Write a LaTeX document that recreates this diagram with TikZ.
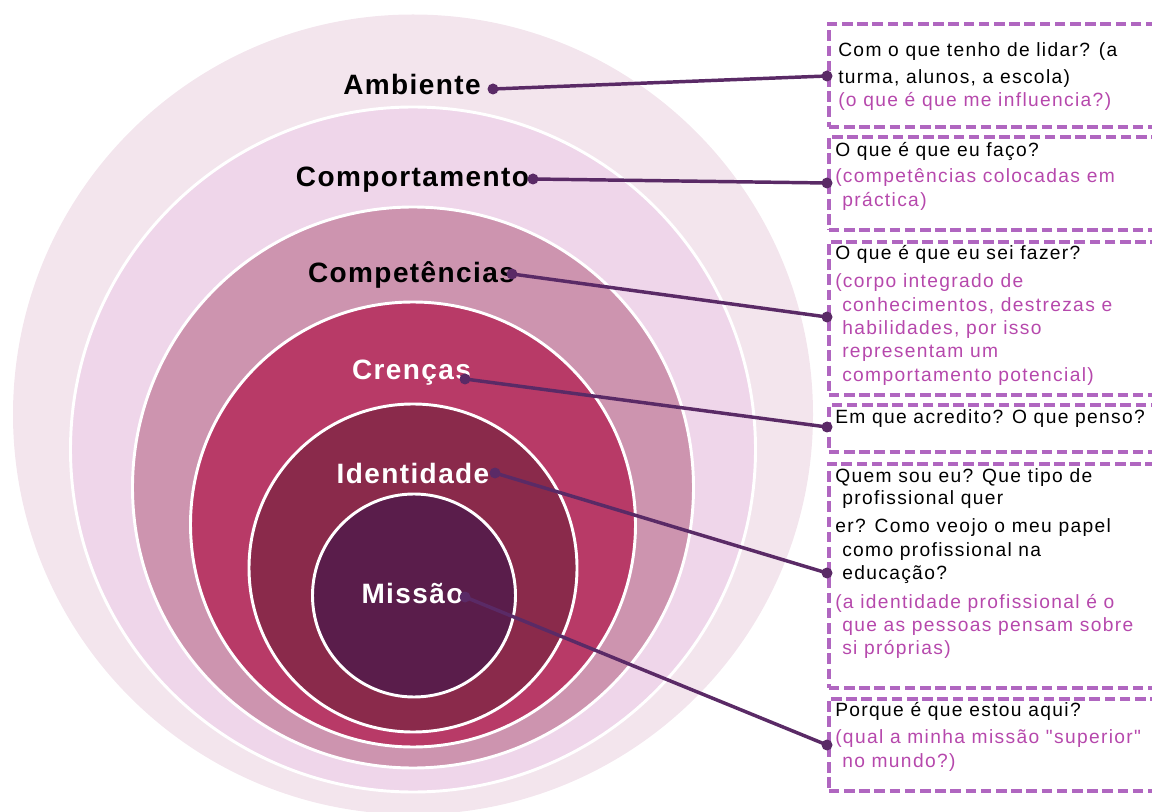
\documentclass[tikz,border=0pt]{standalone}
\usepackage{fontspec}
\setmainfont{Liberation Sans}
\newfontfamily\lblfont{Liberation Sans}[LetterSpace=5]
\newfontfamily\bxfont{Liberation Sans}[LetterSpace=7]
\usetikzlibrary{calc}
\definecolor{cAmb}{HTML}{F3E5ED}
\definecolor{cCmp}{HTML}{EFD6EA}
\definecolor{cCpt}{HTML}{CD94AF}
\definecolor{cCre}{HTML}{B83A67}
\definecolor{cIde}{HTML}{8A2A4B}
\definecolor{cMis}{HTML}{5A1D4B}
\definecolor{cConn}{HTML}{5A2A66}
\definecolor{cDash}{HTML}{B066C0}
\definecolor{cPink}{HTML}{B648AC}
\tikzset{
  ring/.style={circle, inner sep=0pt, draw=white, line width=2.2pt},
  lbl/.style={anchor=base, inner sep=0pt, font=\lblfont\bfseries\fontsize{21}{24}\selectfont},
  qbox/.style={rectangle, anchor=north west, inner sep=0pt, draw=cDash, line width=2.7pt,
    dash pattern=on 8pt off 3.4pt, minimum width=261pt},
  bt/.style={anchor=base west, inner sep=0pt, font=\bxfont\fontsize{14.4}{17}\selectfont},
  pk/.style={bt, text=cPink},
  conn/.style={draw=cConn, line width=2.6pt},
  dot/.style={fill=cConn}
}
\begin{document}
\begin{tikzpicture}[x=0.75pt,y=-0.75pt]
\useasboundingbox (0,0) rectangle (1152,812);
% circles
\node[circle, inner sep=0pt, fill=cAmb, minimum size=600pt] (amb) at (413,414.5) {};
\node[ring, fill=cCmp, minimum size=513.75pt] (cmp) at (413,449.5) {};
\node[ring, fill=cCpt, minimum size=420.75pt] (cpt) at (413,487.5) {};
\node[ring, fill=cCre, minimum size=333.75pt] (cre) at (413,524.5) {};
\node[ring, fill=cIde, minimum size=246pt] (ide) at (413,568) {};
\node[ring, fill=cMis, minimum size=152.25pt] (mis) at (414,595.5) {};
% labels
\node[lbl] (lamb) at (412,95) {Ambiente};
\node[lbl] (lcmp) at (412.5,187) {Comportamento};
\node[lbl] (lcpt) at (411.5,283) {Competências};
\node[lbl, text=white] (lcre) at (411.5,380) {Crenças};
\node[lbl, text=white] (lide) at (413,483) {Identidade};
\node[lbl, text=white] (lmis) at (412.5,603) {Missão};
% boxes
\node[qbox, minimum height=77.25pt] (b1) at (827,22) {};
\node[qbox, minimum height=69.75pt] (b2) at (827,135) {};
\node[qbox, minimum height=114.75pt] (b3) at (827,240) {};
\node[qbox, minimum height=35.25pt] (b4) at (827,403) {};
\node[qbox, minimum height=168pt] (b5) at (827,462) {};
\node[qbox, minimum height=69pt] (b6) at (827,697) {};
% box texts
\node[bt] (t11) at (838,57) {Com o que tenho de lidar? (a};
\node[bt] (t12) at (838,84) {turma, alunos, a escola)};
\node[pk] (t13) at (838,107) {(o que é que me influencia?)};
\node[bt] (t21) at (835,157) {O que é que eu faço?};
\node[pk] (t22) at (835,183) {(competências colocadas em};
\node[pk] (t23) at (842,207) {práctica)};
\node[bt] (t31) at (835,260) {O que é que eu sei fazer?};
\node[pk] (t32) at (835,288) {(corpo integrado de};
\node[pk] (t33) at (842,312) {conhecimentos, destrezas e};
\node[pk] (t34) at (842,335) {habilidades, por isso};
\node[pk] (t35) at (842,358) {representam um};
\node[pk] (t36) at (842,382) {comportamento potencial)};
\node[bt] (t41) at (835,423) {Em que acredito? O que penso?};
\node[bt] (t51) at (835,482) {Quem sou eu? Que tipo de};
\node[bt] (t52) at (842,504) {profissional quer};
\node[bt] (t53) at (835,532) {er? Como veojo o meu papel};
\node[bt] (t54) at (842,556) {como profissional na};
\node[bt] (t55) at (842,579) {educação?};
\node[pk] (t56) at (835,608) {(a identidade profissional é o};
\node[pk] (t57) at (842,631) {que as pessoas pensam sobre};
\node[pk] (t58) at (842,654) {si próprias)};
\node[bt] (t61) at (835,716) {Porque é que estou aqui?};
\node[pk] (t62) at (835,743) {(qual a minha missão "superior"};
\node[pk] (t63) at (842,767) {no mundo?)};
% connector ends
\coordinate (s1) at (493,89);
\coordinate (s2) at (533,179);
\coordinate (s3) at (512,274);
\coordinate (s4) at (465,379);
\coordinate (s5) at (495,473);
\coordinate (s6) at (465,597);
\coordinate (e1) at ($(b1.north west)+(0,54)$);
\coordinate (e2) at ($(b2.north west)+(0,48)$);
\coordinate (e3) at ($(b3.north west)+(0,77)$);
\coordinate (e4) at ($(b4.north west)+(0,24)$);
\coordinate (e5) at ($(b5.north west)+(0,111)$);
\coordinate (e6) at ($(b6.north west)+(0,48)$);
\foreach \i in {1,...,6}{
  \draw[conn] (s\i) -- (e\i);
  \fill[dot] (s\i) circle[radius=5.5];
  \fill[dot] (e\i) circle[radius=5.5];
}
\end{tikzpicture}
\end{document}
